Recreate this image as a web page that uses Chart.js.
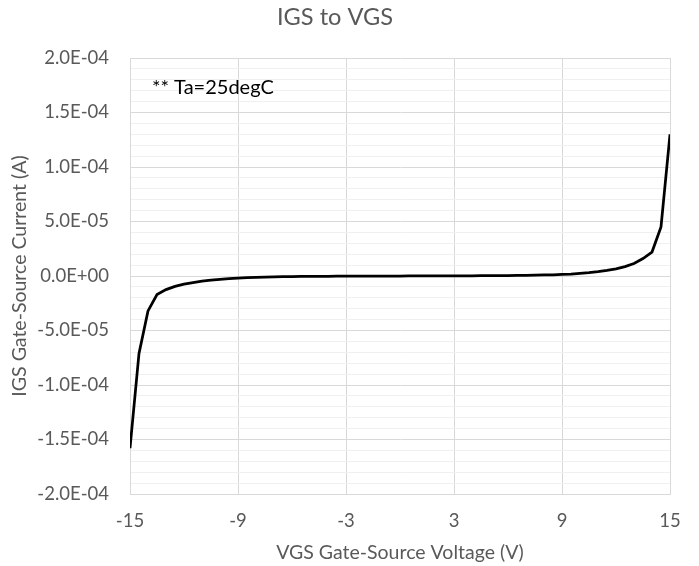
<!DOCTYPE html>
<html>
<head>
<meta charset="utf-8">
<script src="https://cdn.jsdelivr.net/npm/chart.js@4"></script>
<style>
html,body{margin:0;padding:0;background:#fff;}
#wrap{width:699px;height:566px;}
</style>
</head>
<body>
<div id="wrap"><canvas id="c" width="699" height="566"></canvas></div>
<script>
const vgs = [-15,-14.5,-14,-13.5,-13,-12.5,-12,-11.5,-11,-10.5,-10,-9.5,-9,-8.5,-8,-7.5,-7,-6.5,-6,-5.5,-5,-4.5,-4,-3.5,-3,-2.5,-2,-1.5,-1,-0.5,0,0.5,1,1.5,2,2.5,3,3.5,4,4.5,5,5.5,6,6.5,7,7.5,8,8.5,9,9.5,10,10.5,11,11.5,12,12.5,13,13.5,14,14.5,15];
const igs = [-1.58e-4,-7.1e-5,-3.2e-5,-1.7e-5,-1.25e-5,-9.5e-6,-7.5e-6,-6.0e-6,-4.8e-6,-3.8e-6,-3.0e-6,-2.4e-6,-1.9e-6,-1.5e-6,-1.2e-6,-1.0e-6,-8e-7,-6.5e-7,-5.5e-7,-4.5e-7,-3.8e-7,-3.2e-7,-2.6e-7,-2.1e-7,-1.7e-7,-1.3e-7,-1.0e-7,-7e-8,-4e-8,-2e-8,0,2e-8,4e-8,6e-8,8e-8,1.0e-7,1.3e-7,1.6e-7,2.0e-7,2.5e-7,3.0e-7,3.6e-7,4.3e-7,5.2e-7,6.3e-7,7.6e-7,9.2e-7,1.1e-6,1.4e-6,1.8e-6,2.4e-6,3.1e-6,4.0e-6,5.1e-6,6.6e-6,8.6e-6,1.15e-5,1.6e-5,2.2e-5,4.5e-5,1.30e-4];
const xTicks = [-15,-9,-3,3,9,15];
const yMajorTicks = [-2.0e-4,-1.5e-4,-1.0e-4,-5.0e-5,0,5.0e-5,1.0e-4,1.5e-4,2.0e-4];
const yTickLabels = ["-2.0E-04","-1.5E-04","-1.0E-04","-5.0E-05","0.0E+00","5.0E-05","1.0E-04","1.5E-04","2.0E-04"];
const yMinorStep = 1e-5;
const titleText = "IGS to VGS";
const xTitle = "VGS Gate-Source Voltage (V)";
const yTitle = "IGS Gate-Source Current (A)";
const noteText = "** Ta=25degC";

const FONT = "Lato, 'Open Sans', 'Liberation Sans', sans-serif";
const TXT = "#595959";

// choose font sizes so that rendered text widths match the reference's
const mctx = document.createElement('canvas').getContext('2d');
function fitSize(text, width){
  mctx.font = "100px " + FONT;
  return Math.round(100 * width / mctx.measureText(text).width * 10) / 10;
}
const titleSize = fitSize(titleText, 116);
const tickSize = fitSize("2.0E-04", 65);
const axisTitleSize = fitSize(xTitle, 248);
const noteSize = fitSize(noteText, 122);

function isMajor(v){ return yMajorTicks.some(m => Math.abs(m - v) < 1e-9); }
function majorLabel(v){ const i = yMajorTicks.findIndex(m => Math.abs(m - v) < 1e-9); return i >= 0 ? yTickLabels[i] : ""; }

const notePlugin = {
  id: 'note',
  afterDatasetsDraw(chart){
    const {ctx, chartArea} = chart;
    ctx.save();
    ctx.font = noteSize + "px " + FONT;
    ctx.fillStyle = "#000";
    ctx.textBaseline = "middle";
    ctx.textAlign = "left";
    ctx.fillText(noteText, chartArea.left + 22, chartArea.top + 30);
    ctx.restore();
  }
};

new Chart(document.getElementById('c'), {
  type: 'line',
  data: {
    datasets: [{
      data: vgs.map((x,i)=>({x, y: igs[i]})),
      borderColor: '#000',
      borderWidth: 2.75,
      pointRadius: 0,
      tension: 0,
      fill: false
    }]
  },
  options: {
    responsive: false,
    animation: false,
    devicePixelRatio: 1,
    layout: { padding: { left: 0, right: 29, top: 0, bottom: 2 } },
    plugins: {
      legend: { display: false },
      tooltip: { enabled: false },
      title: {
        display: true,
        text: titleText,
        color: TXT,
        font: { family: FONT, size: titleSize, weight: 'normal', lineHeight: 1.2 },
        padding: { top: 3, bottom: 58 - 3 - titleSize * 1.2 }
      }
    },
    scales: {
      x: {
        type: 'linear',
        min: -15, max: 15,
        afterBuildTicks(s){ s.ticks = xTicks.map(v => ({value: v})); },
        afterFit(s){ s.height = 70; },
        grid: { color: '#d9d9d9', lineWidth: 1, drawTicks: false },
        border: { color: '#d9d9d9' },
        ticks: { color: TXT, font: { family: FONT, size: tickSize }, padding: 16, maxRotation: 0, autoSkip: false },
        title: { display: true, text: xTitle, color: TXT, font: { family: FONT, size: axisTitleSize }, padding: { top: 4, bottom: 0 } }
      },
      y: {
        type: 'linear',
        min: -2e-4, max: 2e-4,
        afterBuildTicks(s){
          const t = [];
          for (let k = -20; k <= 20; k++) t.push({value: k * yMinorStep});
          s.ticks = t;
        },
        afterFit(s){ s.width = 130; },
        grid: {
          drawTicks: false,
          color: (c) => isMajor(c.tick.value) ? '#d9d9d9' : '#f0f0f0',
          lineWidth: 1
        },
        border: { color: '#d9d9d9' },
        ticks: {
          color: TXT, font: { family: FONT, size: tickSize }, padding: 21, autoSkip: false,
          callback: (v) => majorLabel(v)
        },
        title: { display: true, text: yTitle, color: TXT, font: { family: FONT, size: axisTitleSize }, padding: { top: 8, bottom: 0 } }
      }
    }
  },
  plugins: [notePlugin]
});
</script>
</body>
</html>
